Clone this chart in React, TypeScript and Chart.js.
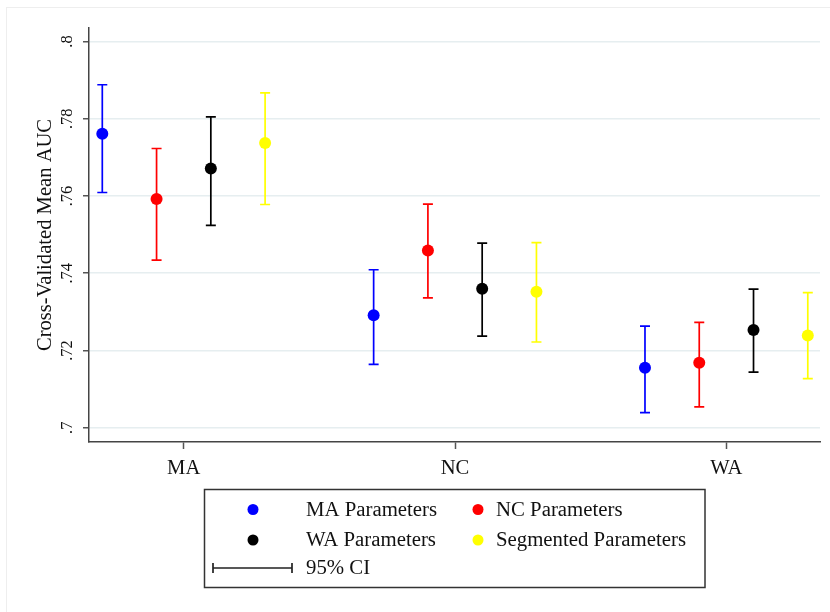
import React, { useEffect, useRef } from "react";
import { Chart, registerables } from "chart.js";

Chart.register(...registerables);

const categories = ["MA", "NC", "WA"];
const seriesLabels = ["MA Parameters", "NC Parameters", "WA Parameters", "Segmented Parameters"];
const seriesColors = ["#0000ff", "#ff0000", "#000000", "#ffff00"];

const maParamMean = [0.7761, 0.7291, 0.7155];
const maParamLow = [0.7609, 0.7164, 0.7039];
const maParamHigh = [0.7888, 0.7409, 0.7263];

const ncParamMean = [0.7592, 0.7459, 0.7168];
const ncParamLow = [0.7434, 0.7336, 0.7054];
const ncParamHigh = [0.7723, 0.7579, 0.7273];

const waParamMean = [0.7671, 0.736, 0.7253];
const waParamLow = [0.7524, 0.7237, 0.7144];
const waParamHigh = [0.7805, 0.7478, 0.7359];

const segParamMean = [0.7737, 0.7352, 0.7239];
const segParamLow = [0.7578, 0.7222, 0.7127];
const segParamHigh = [0.7867, 0.7479, 0.735];

const yTickValues = [0.7, 0.72, 0.74, 0.76, 0.78, 0.8];
const yTickLabels = [".7", ".72", ".74", ".76", ".78", ".8"];
const yAxisTitle = "Cross-Validated Mean AUC";
const ciLabel = "95% CI";

const seriesMeans = [maParamMean, ncParamMean, waParamMean, segParamMean];
const seriesLows = [maParamLow, ncParamLow, waParamLow, segParamLow];
const seriesHighs = [maParamHigh, ncParamHigh, waParamHigh, segParamHigh];

// layout (not data)
const groupOffsets = [-0.3, -0.1, 0.1, 0.3];
const FONT = "'Liberation Serif', 'Times New Roman', serif";
const TEXT = "#111111";

export default function App() {
  const ref = useRef<HTMLCanvasElement | null>(null);

  useEffect(() => {
    if (!ref.current) return;

    const datasets = seriesMeans.map((means, s) => ({
      label: seriesLabels[s],
      data: means.map((m, i) => ({ x: i + 1 + groupOffsets[s], y: m })),
      backgroundColor: seriesColors[s],
      borderColor: seriesColors[s],
      borderWidth: 0,
      pointRadius: 6,
      pointHoverRadius: 6,
    }));

    const errorBars = {
      id: "errorBars",
      beforeDatasetsDraw(chart: any) {
        const { ctx, scales } = chart;
        const xs = scales.x;
        const ys = scales.y;
        ctx.save();
        seriesMeans.forEach((means, s) => {
          ctx.strokeStyle = seriesColors[s];
          ctx.lineWidth = 1.7;
          means.forEach((_m, i) => {
            const px = xs.getPixelForValue(i + 1 + groupOffsets[s]);
            const lo = ys.getPixelForValue(seriesLows[s][i]);
            const hi = ys.getPixelForValue(seriesHighs[s][i]);
            ctx.beginPath();
            ctx.moveTo(px, lo);
            ctx.lineTo(px, hi);
            ctx.moveTo(px - 5, lo);
            ctx.lineTo(px + 5, lo);
            ctx.moveTo(px - 5, hi);
            ctx.lineTo(px + 5, hi);
            ctx.stroke();
          });
        });
        ctx.restore();
      },
    };

    const decorations = {
      id: "decorations",
      beforeDraw(chart: any) {
        const { ctx } = chart;
        ctx.save();
        ctx.fillStyle = "#ffffff";
        ctx.fillRect(0, 0, chart.width, chart.height);
        ctx.strokeStyle = "#eeeeee";
        ctx.lineWidth = 1;
        ctx.strokeRect(6.5, 7.5, chart.width + 10, chart.height - 4);
        ctx.restore();
      },
      afterDraw(chart: any) {
        const { ctx, scales, chartArea } = chart;
        const xs = scales.x;
        const ys = scales.y;
        ctx.save();
        ctx.fillStyle = TEXT;
        // y tick labels (rotated)
        ctx.font = `16.5px ${FONT}`;
        ctx.textAlign = "center";
        ctx.textBaseline = "alphabetic";
        yTickValues.forEach((v, i) => {
          const py = ys.getPixelForValue(v);
          ctx.save();
          ctx.translate(72, py);
          ctx.rotate(-Math.PI / 2);
          ctx.fillText(yTickLabels[i], 0, 0);
          ctx.restore();
        });
        // y axis title
        ctx.font = `20.6px ${FONT}`;
        ctx.save();
        ctx.translate(51, (chartArea.top + chartArea.bottom) / 2);
        ctx.rotate(-Math.PI / 2);
        ctx.fillText(yAxisTitle, 0, 0);
        ctx.restore();
        // x labels
        categories.forEach((c, i) => {
          ctx.fillText(c, xs.getPixelForValue(i + 1), 474);
        });

        // legend
        const lx = 204.5, ly = 489.5, lw = 500.5, lh = 98;
        ctx.strokeStyle = "#333333";
        ctx.lineWidth = 1.5;
        ctx.strokeRect(lx, ly, lw, lh);
        const rows = [509.5, 540];
        const dotX = [253, 478];
        const txtX = [306, 496];
        ctx.textAlign = "left";
        ctx.textBaseline = "middle";
        ctx.font = `20.8px ${FONT}`;
        seriesLabels.forEach((lab, s) => {
          const r = Math.floor(s / 2);
          const c = s % 2;
          ctx.fillStyle = seriesColors[s];
          ctx.beginPath();
          ctx.arc(dotX[c], rows[r], 5.5, 0, Math.PI * 2);
          ctx.fill();
          ctx.fillStyle = TEXT;
          ctx.fillText(lab, txtX[c], rows[r] + 1);
        });
        // CI key
        const cy = 568;
        ctx.strokeStyle = "#222222";
        ctx.lineWidth = 1.7;
        ctx.beginPath();
        ctx.moveTo(213, cy);
        ctx.lineTo(292, cy);
        ctx.moveTo(213, cy - 5);
        ctx.lineTo(213, cy + 5);
        ctx.moveTo(292, cy - 5);
        ctx.lineTo(292, cy + 5);
        ctx.stroke();
        ctx.fillStyle = TEXT;
        ctx.fillText(ciLabel, 306, cy + 1);
        ctx.restore();
      },
    };

    const chart = new Chart(ref.current, {
      type: "scatter",
      data: { datasets },
      options: {
        animation: false,
        responsive: false,
        maintainAspectRatio: false,
        events: [],
        layout: { padding: { left: 0, top: 28, right: 10, bottom: 0 } },
        plugins: {
          legend: { display: false },
          tooltip: { enabled: false },
        },
        scales: {
          x: {
            type: "linear",
            min: 0.651,
            max: 3.345,
            afterBuildTicks: (scale: any) => {
              scale.ticks = categories.map((_c, i) => ({ value: i + 1 }));
            },
            afterFit: (scale: any) => {
              scale.height = 170;
            },
            ticks: { display: false },
            grid: {
              drawOnChartArea: false,
              drawTicks: true,
              tickLength: 7,
              tickColor: "#555555",
              tickWidth: 1.5,
            },
            border: { color: "#444444", width: 1.5 },
          },
          y: {
            type: "linear",
            min: 0.6963,
            max: 0.8035,
            afterBuildTicks: (scale: any) => {
              scale.ticks = yTickValues.map((v) => ({ value: v }));
            },
            afterFit: (scale: any) => {
              scale.width = 89;
            },
            ticks: { display: false },
            grid: {
              color: "#e6eef0",
              lineWidth: 1.5,
              drawTicks: true,
              tickLength: 6,
              tickColor: "#555555",
              tickWidth: 1.5,
            },
            border: { color: "#444444", width: 1.5 },
          },
        },
      },
      plugins: [errorBars, decorations],
    } as any);

    return () => chart.destroy();
  }, []);

  return (
    <div style={{ position: "fixed", left: 0, top: 0, width: 830, height: 612, background: "#fff" }}>
      <canvas ref={ref} width={830} height={612} style={{ display: "block" }} />
    </div>
  );
}
